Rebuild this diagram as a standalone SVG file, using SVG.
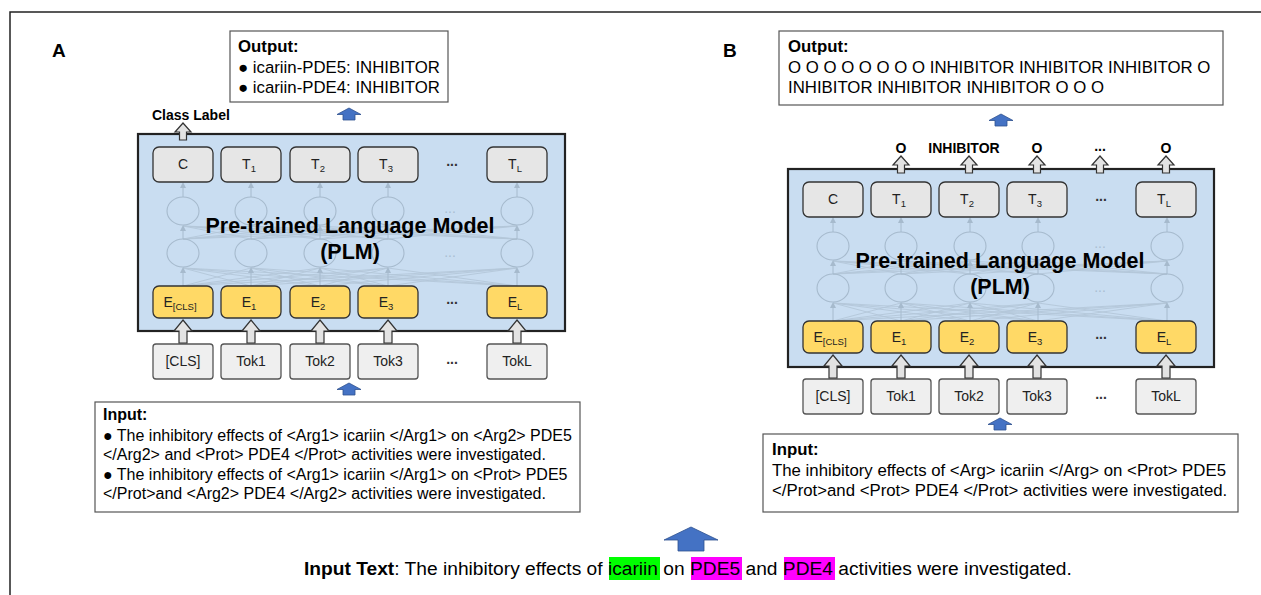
<svg xmlns="http://www.w3.org/2000/svg" xmlns:xlink="http://www.w3.org/1999/xlink" width="1261" height="595" viewBox="0 0 1261 595">
<style>
text{font-family:"Liberation Sans",Arial,sans-serif;fill:#000}
.b{font-weight:bold}
.plm{fill:#c9ddf1;stroke:#222;stroke-width:2.2}
.tb{fill:#e6e6e6;stroke:#333;stroke-width:1.3}
.eb{fill:#ffd966;stroke:#333;stroke-width:1.3}
.kb{fill:#efefef;stroke:#555;stroke-width:1.3}
.bt{font-size:14px;fill:#222;text-anchor:middle}
.sub{font-size:9.5px}
.tx{fill:#fff;stroke:#555;stroke-width:1.2}
.nn{fill:none;stroke:#a6bacd;stroke-width:1.1}
.nl{stroke:#adbfd1;stroke-width:0.9;opacity:0.75}
.nd{fill:#a9bdd1;font-size:14px;text-anchor:middle}
.t16{font-size:16px}
.t17{font-size:16.8px}
.lab{font-size:14px;font-weight:bold;text-anchor:middle}
.dots{font-size:14px;font-weight:bold;fill:#333;text-anchor:middle}
</style>
<defs>
<path id="ga" d="M0,0 L9,11 L4,11 L4,23 L-4,23 L-4,11 L-9,11 Z" fill="#e3e3e3" stroke="#333" stroke-width="1.2"/>
<path id="gs" d="M0,0 L8,9 L3.5,9 L3.5,17 L-3.5,17 L-3.5,9 L-8,9 Z" fill="#e3e3e3" stroke="#333" stroke-width="1.2"/>
<path id="ba" d="M0,0 L12,6.5 L6,6.5 L6,12 L-6,12 L-6,6.5 L-12,6.5 Z" fill="#4472c4" stroke="#2f528f" stroke-width="0.8"/>
<marker id="fm" markerWidth="6" markerHeight="6" refX="3" refY="3" orient="auto"><path d="M0,0 L6,3 L0,6 Z" fill="#a6bacd"/></marker>
<g id="net">
<g class="nl">
<line x1="0" y1="139" x2="68" y2="121"/><line x1="0" y1="139" x2="137" y2="121"/><line x1="0" y1="139" x2="205" y2="121"/><line x1="0" y1="139" x2="334" y2="121"/>
<line x1="68" y1="139" x2="0" y2="121"/><line x1="68" y1="139" x2="137" y2="121"/><line x1="68" y1="139" x2="205" y2="121"/><line x1="68" y1="139" x2="334" y2="121"/>
<line x1="137" y1="139" x2="0" y2="121"/><line x1="137" y1="139" x2="68" y2="121"/><line x1="137" y1="139" x2="205" y2="121"/><line x1="137" y1="139" x2="334" y2="121"/>
<line x1="205" y1="139" x2="0" y2="121"/><line x1="205" y1="139" x2="68" y2="121"/><line x1="205" y1="139" x2="137" y2="121"/><line x1="205" y1="139" x2="334" y2="121"/>
<line x1="334" y1="139" x2="0" y2="121"/><line x1="334" y1="139" x2="68" y2="121"/><line x1="334" y1="139" x2="137" y2="121"/><line x1="334" y1="139" x2="205" y2="121"/>
<line x1="0" y1="92" x2="68" y2="79"/><line x1="0" y1="92" x2="137" y2="79"/><line x1="0" y1="92" x2="205" y2="79"/><line x1="0" y1="92" x2="334" y2="79"/>
<line x1="68" y1="92" x2="0" y2="79"/><line x1="68" y1="92" x2="137" y2="79"/><line x1="68" y1="92" x2="205" y2="79"/><line x1="68" y1="92" x2="334" y2="79"/>
<line x1="137" y1="92" x2="0" y2="79"/><line x1="137" y1="92" x2="68" y2="79"/><line x1="137" y1="92" x2="205" y2="79"/><line x1="137" y1="92" x2="334" y2="79"/>
<line x1="205" y1="92" x2="0" y2="79"/><line x1="205" y1="92" x2="68" y2="79"/><line x1="205" y1="92" x2="137" y2="79"/><line x1="205" y1="92" x2="334" y2="79"/>
<line x1="334" y1="92" x2="0" y2="79"/><line x1="334" y1="92" x2="68" y2="79"/><line x1="334" y1="92" x2="137" y2="79"/><line x1="334" y1="92" x2="205" y2="79"/>
</g>
<g stroke="#a6bacd" stroke-width="1" marker-end="url(#fm)">
<line x1="0" y1="139" x2="0" y2="123"/><line x1="68" y1="139" x2="68" y2="123"/><line x1="137" y1="139" x2="137" y2="123"/><line x1="205" y1="139" x2="205" y2="123"/><line x1="334" y1="139" x2="334" y2="123"/>
<line x1="0" y1="92" x2="0" y2="81"/><line x1="68" y1="92" x2="68" y2="81"/><line x1="137" y1="92" x2="137" y2="81"/><line x1="205" y1="92" x2="205" y2="81"/><line x1="334" y1="92" x2="334" y2="81"/>
<line x1="0" y1="50" x2="0" y2="38"/><line x1="68" y1="50" x2="68" y2="38"/><line x1="137" y1="50" x2="137" y2="38"/><line x1="205" y1="50" x2="205" y2="38"/><line x1="334" y1="50" x2="334" y2="38"/>
</g>
<g class="nn">
<ellipse cx="0" cy="64" rx="16" ry="14"/><ellipse cx="68" cy="64" rx="16" ry="14"/><ellipse cx="137" cy="64" rx="16" ry="14"/><ellipse cx="205" cy="64" rx="16" ry="14"/><ellipse cx="334" cy="64" rx="16" ry="14"/>
<ellipse cx="0" cy="106" rx="16" ry="14"/><ellipse cx="68" cy="106" rx="16" ry="14"/><ellipse cx="137" cy="106" rx="16" ry="14"/><ellipse cx="205" cy="106" rx="16" ry="14"/><ellipse cx="334" cy="106" rx="16" ry="14"/>
</g>
<text class="nd" x="267" y="66">...</text>
<text class="nd" x="267" y="110">...</text>
</g>
</defs>

<path d="M10,595 V12 H1261" fill="none" stroke="#222" stroke-width="1.5"/>

<text class="b" x="52" y="57" font-size="19">A</text>
<text class="b" x="723" y="57" font-size="19">B</text>

<!-- Panel A -->
<g id="a-output">
<rect class="tx" x="230" y="31" width="218" height="71"/>
<text class="t17 b" x="238" y="52">Output:</text>
<text class="t17" x="238" y="73">● icariin-PDE5: INHIBITOR</text>
<text class="t17" x="238" y="93">● icariin-PDE4: INHIBITOR</text>
</g>
<g id="a-classlabel"><text class="b" x="152" y="120" font-size="14">Class Label</text></g>
<g id="a-plm">
<rect class="plm" x="138" y="134" width="427" height="197"/>
<use href="#net" x="183" y="147"/>
<text class="b" x="350" y="233" font-size="21.5" text-anchor="middle">Pre-trained Language Model</text>
<text class="b" x="350" y="259" font-size="21.5" text-anchor="middle">(PLM)</text>
</g>
<g id="a-top">
<rect class="tb" x="153" y="147" width="60" height="35" rx="6"/><text class="bt" x="183" y="169">C</text>
<rect class="tb" x="221" y="147" width="60" height="35" rx="6"/><text class="bt" x="249" y="169">T<tspan class="sub" dy="3">1</tspan></text>
<rect class="tb" x="290" y="147" width="60" height="35" rx="6"/><text class="bt" x="318" y="169">T<tspan class="sub" dy="3">2</tspan></text>
<rect class="tb" x="358" y="147" width="60" height="35" rx="6"/><text class="bt" x="386" y="169">T<tspan class="sub" dy="3">3</tspan></text>
<text class="dots" x="452" y="166">...</text>
<rect class="tb" x="487" y="147" width="60" height="35" rx="6"/><text class="bt" x="515" y="169">T<tspan class="sub" dy="3">L</tspan></text>
</g>
<g id="a-emb">
<rect class="eb" x="153" y="286" width="60" height="32" rx="6"/><text class="bt" x="180" y="307">E<tspan class="sub" dy="3">[CLS]</tspan></text>
<rect class="eb" x="221" y="286" width="60" height="32" rx="6"/><text class="bt" x="249" y="307">E<tspan class="sub" dy="3">1</tspan></text>
<rect class="eb" x="290" y="286" width="60" height="32" rx="6"/><text class="bt" x="318" y="307">E<tspan class="sub" dy="3">2</tspan></text>
<rect class="eb" x="358" y="286" width="60" height="32" rx="6"/><text class="bt" x="386" y="307">E<tspan class="sub" dy="3">3</tspan></text>
<text class="dots" x="452" y="304">...</text>
<rect class="eb" x="487" y="286" width="60" height="32" rx="6"/><text class="bt" x="515" y="307">E<tspan class="sub" dy="3">L</tspan></text>
</g>
<g id="a-tok">
<rect class="kb" x="153" y="344" width="60" height="35" rx="3"/><text class="bt" x="183" y="366">[CLS]</text>
<rect class="kb" x="221" y="344" width="60" height="35" rx="3"/><text class="bt" x="251" y="366">Tok1</text>
<rect class="kb" x="290" y="344" width="60" height="35" rx="3"/><text class="bt" x="320" y="366">Tok2</text>
<rect class="kb" x="358" y="344" width="60" height="35" rx="3"/><text class="bt" x="388" y="366">Tok3</text>
<text class="dots" x="452" y="364">...</text>
<rect class="kb" x="487" y="344" width="60" height="35" rx="3"/><text class="bt" x="517" y="366">TokL</text>
</g>
<g id="a-input">
<rect class="tx" x="95" y="402" width="485" height="110"/>
<text class="t16 b" x="103" y="420">Input:</text>
<text class="t16" x="103" y="441">● The inhibitory effects of &lt;Arg1&gt; icariin &lt;/Arg1&gt; on &lt;Arg2&gt; PDE5</text>
<text class="t16" x="103" y="460">&lt;/Arg2&gt; and &lt;Prot&gt; PDE4 &lt;/Prot&gt; activities were investigated.</text>
<text class="t16" x="103" y="480">● The inhibitory effects of &lt;Arg1&gt; icariin &lt;/Arg1&gt; on &lt;Prot&gt; PDE5</text>
<text class="t16" x="103" y="499">&lt;/Prot&gt;and &lt;Arg2&gt; PDE4 &lt;/Arg2&gt; activities were investigated.</text>
</g>

<!-- Panel B -->
<g id="b-output">
<rect class="tx" x="779" y="31" width="444" height="74"/>
<text class="t17 b" x="788" y="52">Output:</text>
<text class="t17" x="788" y="73">O O O O O O O O INHIBITOR INHIBITOR INHIBITOR O</text>
<text class="t17" x="788" y="93">INHIBITOR INHIBITOR INHIBITOR O O O</text>
</g>
<g id="b-labels">
<text class="lab" x="901" y="153">O</text>
<text class="lab" x="964" y="153">INHIBITOR</text>
<text class="lab" x="1037" y="153">O</text>
<text class="lab" x="1100" y="151">...</text>
<text class="lab" x="1166" y="153">O</text>
</g>
<g id="b-plm">
<rect class="plm" x="788" y="169" width="426" height="198"/>
<use href="#net" x="833" y="182"/>
<text class="b" x="1000" y="268" font-size="21.5" text-anchor="middle">Pre-trained Language Model</text>
<text class="b" x="1000" y="294" font-size="21.5" text-anchor="middle">(PLM)</text>
</g>
<g id="b-top">
<rect class="tb" x="803" y="182" width="60" height="35" rx="6"/><text class="bt" x="833" y="204">C</text>
<rect class="tb" x="871" y="182" width="60" height="35" rx="6"/><text class="bt" x="899" y="204">T<tspan class="sub" dy="3">1</tspan></text>
<rect class="tb" x="939" y="182" width="60" height="35" rx="6"/><text class="bt" x="967" y="204">T<tspan class="sub" dy="3">2</tspan></text>
<rect class="tb" x="1007" y="182" width="60" height="35" rx="6"/><text class="bt" x="1035" y="204">T<tspan class="sub" dy="3">3</tspan></text>
<text class="dots" x="1101" y="201">...</text>
<rect class="tb" x="1136" y="182" width="60" height="35" rx="6"/><text class="bt" x="1164" y="204">T<tspan class="sub" dy="3">L</tspan></text>
</g>
<g id="b-emb">
<rect class="eb" x="803" y="321" width="60" height="32" rx="6"/><text class="bt" x="830" y="342">E<tspan class="sub" dy="3">[CLS]</tspan></text>
<rect class="eb" x="871" y="321" width="60" height="32" rx="6"/><text class="bt" x="899" y="342">E<tspan class="sub" dy="3">1</tspan></text>
<rect class="eb" x="939" y="321" width="60" height="32" rx="6"/><text class="bt" x="967" y="342">E<tspan class="sub" dy="3">2</tspan></text>
<rect class="eb" x="1007" y="321" width="60" height="32" rx="6"/><text class="bt" x="1035" y="342">E<tspan class="sub" dy="3">3</tspan></text>
<text class="dots" x="1101" y="339">...</text>
<rect class="eb" x="1136" y="321" width="60" height="32" rx="6"/><text class="bt" x="1164" y="342">E<tspan class="sub" dy="3">L</tspan></text>
</g>
<g id="b-tok">
<rect class="kb" x="803" y="379" width="60" height="35" rx="3"/><text class="bt" x="833" y="401">[CLS]</text>
<rect class="kb" x="871" y="379" width="60" height="35" rx="3"/><text class="bt" x="901" y="401">Tok1</text>
<rect class="kb" x="939" y="379" width="60" height="35" rx="3"/><text class="bt" x="969" y="401">Tok2</text>
<rect class="kb" x="1007" y="379" width="60" height="35" rx="3"/><text class="bt" x="1037" y="401">Tok3</text>
<text class="dots" x="1101" y="399">...</text>
<rect class="kb" x="1136" y="379" width="60" height="35" rx="3"/><text class="bt" x="1166" y="401">TokL</text>
</g>
<g id="b-input">
<rect class="tx" x="763" y="434" width="475" height="78"/>
<text font-size="16.8" class="b" x="772" y="455">Input:</text>
<text font-size="16.8" x="772" y="476">The inhibitory effects of &lt;Arg&gt; icariin &lt;/Arg&gt; on &lt;Prot&gt; PDE5</text>
<text font-size="16.8" x="772" y="496">&lt;/Prot&gt;and &lt;Prot&gt; PDE4 &lt;/Prot&gt; activities were investigated.</text>
</g>

<!-- Bottom input text -->
<g id="input-text">
<rect x="609" y="557" width="51" height="23" fill="#00ff00"/>
<rect x="691" y="557" width="51" height="23" fill="#ff00ff"/>
<rect x="784" y="557" width="51" height="23" fill="#ff00ff"/>
<text x="304" y="575" font-size="19.2"><tspan class="b">Input Text</tspan>: The inhibitory effects of icariin on PDE5 and PDE4 activities were investigated.</text>
</g>

<!-- Connectors -->
<g id="connectors">
<use href="#ba" x="349" y="108"/>
<use href="#ba" x="349" y="383"/>
<use href="#ba" x="1001" y="114"/>
<use href="#ba" x="1000" y="418"/>
<path d="M691,527 L718,540 L704,540 L704,551 L678,551 L678,540 L664,540 Z" fill="#4472c4" stroke="#2f528f" stroke-width="0.8"/>
<use href="#gs" x="183" y="123"/>
<use href="#ga" x="183" y="320"/><use href="#ga" x="251" y="320"/><use href="#ga" x="320" y="320"/><use href="#ga" x="388" y="320"/><use href="#ga" x="517" y="320"/>
<use href="#gs" x="901" y="156"/><use href="#gs" x="969" y="156"/><use href="#gs" x="1037" y="156"/><use href="#gs" x="1100" y="156"/><use href="#gs" x="1166" y="156"/>
<use href="#ga" x="833" y="355"/><use href="#ga" x="901" y="355"/><use href="#ga" x="969" y="355"/><use href="#ga" x="1037" y="355"/><use href="#ga" x="1166" y="355"/>
</g>
</svg>
